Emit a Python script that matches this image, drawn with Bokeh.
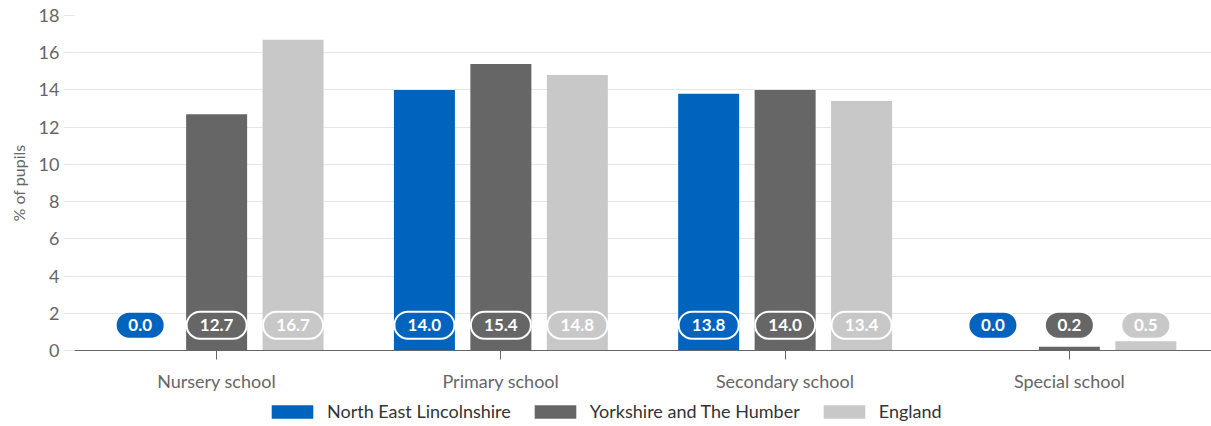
from bokeh.plotting import figure
from bokeh.layouts import column
from bokeh.models import FactorRange, Range1d, ColumnDataSource, Legend, LegendItem
from bokeh.transform import dodge
from bokeh.core.properties import value
from bokeh.embed import file_html
from bokeh.resources import INLINE

categories = ["Nursery school", "Primary school", "Secondary school", "Special school"]
series_names = ["North East Lincolnshire", "Yorkshire and The Humber", "England"]
north_east_lincs = [0.0, 14.0, 13.8, 0.0]
yorkshire = [12.7, 15.4, 14.0, 0.2]
england = [16.7, 14.8, 13.4, 0.5]
y_ticks = [0, 2, 4, 6, 8, 10, 12, 14, 16, 18]

colors = ["#0063bd", "#666666", "#c8c8c8"]
FONT = "Lato"

p = figure(x_range=FactorRange(*categories, range_padding=0), y_range=Range1d(0, 18),
           width=1211, height=395, output_backend="svg", toolbar_location=None,
           min_border_left=74, min_border_right=0, min_border_top=15, min_border_bottom=45)
p.outline_line_color = None
p.background_fill_color = "white"

offsets = [-0.269, 0.0, 0.269]
all_vals = [north_east_lincs, yorkshire, england]
for name, vals, col, off in zip(series_names, all_vals, colors, offsets):
    labels = ["%.1f" % v for v in vals]
    src = ColumnDataSource(dict(cat=categories, val=vals, lbl=labels,
                                pw=[16 + 11 * len(s) for s in labels],
                                ly=[1.36] * len(vals)))
    p.vbar(x=dodge("cat", off, range=p.x_range), top="val", width=0.2146,
           source=src, fill_color=col, line_color=None)
    p.rect(x=dodge("cat", off, range=p.x_range), y="ly", width="pw", height=27,
           width_units="screen", height_units="screen", border_radius=14,
           source=src, fill_color=col, line_color="white", line_width=2)
    p.text(x=dodge("cat", off, range=p.x_range), y="ly", text="lbl", source=src,
           text_align="center", text_baseline="middle", text_color="white",
           text_font=value(FONT), text_font_size="17px", text_font_style="bold")

p.yaxis.ticker = y_ticks
p.yaxis.axis_line_color = None
p.yaxis.major_tick_in = 0
p.yaxis.major_tick_out = 11
p.yaxis.major_tick_line_color = "#e6e6e6"
p.yaxis.minor_tick_line_color = None
p.yaxis.major_label_text_font = FONT
p.yaxis.major_label_text_font_size = "18px"
p.yaxis.major_label_text_color = "#666666"
p.yaxis.major_label_standoff = 4
p.yaxis.axis_label = "% of pupils"
p.yaxis.axis_label_text_font = FONT
p.yaxis.axis_label_text_font_size = "16px"
p.yaxis.axis_label_text_font_style = "normal"
p.yaxis.axis_label_text_color = "#666666"
p.yaxis.axis_label_standoff = 8

p.ygrid.grid_line_color = "#e6e6e6"
p.xgrid.grid_line_color = None

p.xaxis.axis_line_color = "#666666"
p.xaxis.major_tick_line_color = "#666666"
p.xaxis.major_tick_in = 0
p.xaxis.major_tick_out = 9
p.xaxis.major_label_text_font = FONT
p.xaxis.major_label_text_font_size = "18px"
p.xaxis.major_label_text_color = "#666666"
p.xaxis.major_label_standoff = 10

# legend strip (frame is aligned with the chart frame by the column layout)
lg = figure(x_range=Range1d(0, 1), y_range=Range1d(0, 1), width=1211, height=31,
            output_backend="svg", toolbar_location=None,
            min_border_left=0, min_border_right=0, min_border_top=0, min_border_bottom=0,
            x_axis_location=None, y_axis_location=None)
lg.outline_line_color = None
lg.xgrid.grid_line_color = None
lg.ygrid.grid_line_color = None
items = []
for name, col in zip(series_names, colors):
    # legend-only swatch renderer with zero height (draws nothing in the strip)
    r = lg.vbar(x=[0.5], top=[0], bottom=[0], width=0.0, fill_color=col, line_color=None)
    items.append(LegendItem(label=name, renderers=[r]))
legend = Legend(items=items, orientation="horizontal", location=(192, 4),
                glyph_width=52, glyph_height=17, label_standoff=9, spacing=18,
                label_text_font=FONT, label_text_font_size="18px",
                label_text_color="#333333", border_line_color=None,
                background_fill_alpha=0, padding=0, margin=0)
lg.add_layout(legend, "center")

layout = column(p, lg, spacing=0)
open("out.html", "w").write(file_html(layout, INLINE))
